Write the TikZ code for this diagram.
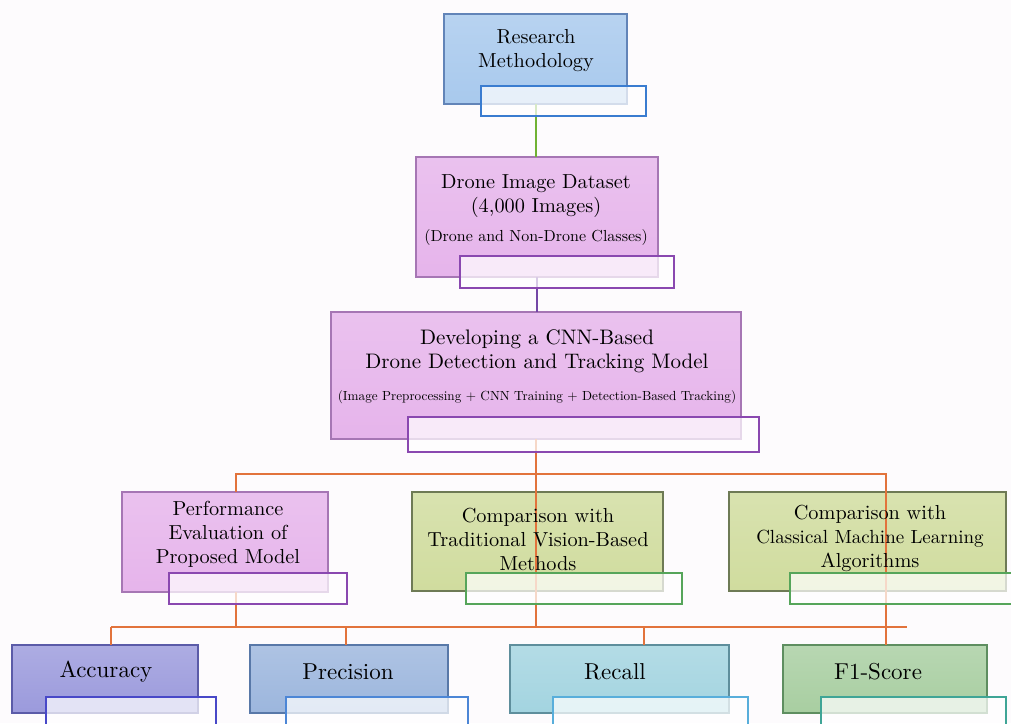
\documentclass[tikz,border=0pt]{standalone}
\usepackage{fontspec}
\setmainfont{lmroman10-regular}[Extension=.otf]
\usepackage{tikz}
\usetikzlibrary{positioning}
\definecolor{RM-BLUE}{RGB}{168,201,237}
\definecolor{RM-EDGE}{RGB}{98,132,184}
\definecolor{RM-TAB}{RGB}{58,124,208}
\definecolor{LILAC}{RGB}{230,180,235}
\definecolor{LILAC-EDGE}{RGB}{166,118,180}
\definecolor{LILAC-TAB}{RGB}{138,72,176}
\definecolor{OLIVE}{RGB}{208,220,158}
\definecolor{OLIVE-EDGE}{RGB}{110,122,85}
\definecolor{OLIVE-TAB}{RGB}{86,165,90}
\definecolor{ACC-BLUE}{RGB}{155,154,220}
\definecolor{ACC-EDGE}{RGB}{91,91,168}
\definecolor{ACC-TAB}{RGB}{72,72,200}
\definecolor{PREC-BLUE}{RGB}{156,182,221}
\definecolor{PREC-EDGE}{RGB}{88,120,168}
\definecolor{PREC-TAB}{RGB}{76,134,214}
\definecolor{REC-TEAL}{RGB}{163,212,224}
\definecolor{REC-EDGE}{RGB}{94,142,156}
\definecolor{REC-TAB}{RGB}{88,174,219}
\definecolor{F1-GREEN}{RGB}{168,206,161}
\definecolor{F1-EDGE}{RGB}{94,142,96}
\definecolor{F1-TAB}{RGB}{63,165,150}
\definecolor{LINK-GREEN}{RGB}{112,178,52}
\definecolor{LINK-PURPLE}{RGB}{116,70,166}
\definecolor{LINK-ORANGE}{RGB}{226,115,60}
\definecolor{PAPER}{RGB}{253,251,253}

\begin{document}
\begin{tikzpicture}[x=1pt,y=-1pt,
	box/.style 2 args={draw=#2,top color=#1!82,bottom color=#1,line width=1.3pt,inner sep=0pt,outer sep=0pt},
	tab/.style={draw=#1,fill=white,fill opacity=0.72,line width=1.5pt,inner sep=0pt,outer sep=0pt},
	link/.style={draw=#1,line width=2pt},
	lbl/.style={align=center,font=\fontsize{20.3}{24}\selectfont,text=black,inner sep=0pt}]
			% page
			\fill[PAPER] (0,0) rectangle (1011,723);
			\useasboundingbox (0,0) rectangle (1011,723);
		
			% draw boxes
			\node (rm) at (535.5,59) [box={RM-BLUE}{RM-EDGE},minimum width=183,minimum height=90] {};
			\node (ds) at (537,217) [box={LILAC}{LILAC-EDGE},minimum width=242,minimum height=120] {};
			\node (dev) at (536,375.5) [box={LILAC}{LILAC-EDGE},minimum width=410,minimum height=127] {};
			\node (perf) at (225,542) [box={LILAC}{LILAC-EDGE},minimum width=206,minimum height=100] {};
			\node (trad) at (537.5,541.5) [box={OLIVE}{OLIVE-EDGE},minimum width=251,minimum height=99] {};
			\node (clas) at (867.5,541.5) [box={OLIVE}{OLIVE-EDGE},minimum width=277,minimum height=99] {};
			\node (acc) at (105,679) [box={ACC-BLUE}{ACC-EDGE},minimum width=186,minimum height=68] {};
			\node (prec) at (349,679) [box={PREC-BLUE}{PREC-EDGE},minimum width=198,minimum height=68] {};
			\node (rec) at (619.5,679) [box={REC-TEAL}{REC-EDGE},minimum width=219,minimum height=68] {};
			\node (f1) at (885,679) [box={F1-GREEN}{F1-EDGE},minimum width=204,minimum height=68] {};
		
			% draw connectors
			\draw[link=LINK-GREEN] (rm.south) -- (rm.south |- ds.north);
			\draw[link=LINK-PURPLE] (ds.south) -- (ds.south |- dev.north);
			\coordinate (bus-top-l) at (236,474);
			\coordinate (bus-top-r) at (886,474);
			\coordinate (bus-bot-l) at (111,627);
			\coordinate (bus-bot-r) at (907,627);
			\draw[link=LINK-ORANGE] (dev.south) -- (dev.south |- bus-bot-l);
			\draw[link=LINK-ORANGE] (bus-top-l |- perf.north) -- (bus-top-l) -- (bus-top-r) -- (bus-top-r |- f1.north);
			\draw[link=LINK-ORANGE] (bus-top-l |- perf.south) -- (bus-top-l |- bus-bot-l);
			\draw[link=LINK-ORANGE] (bus-bot-l) -- (bus-bot-r);
			\foreach \name/\x in {acc/111,prec/346,rec/644} {
				\coordinate (drop-\name) at (\x,627);
				\draw[link=LINK-ORANGE] (drop-\name) -- (drop-\name |- \name.north);
			}
		
			% draw tabs
			\node (rm-tab) at (563.5,101) [tab=RM-TAB,minimum width=165,minimum height=30] {};
			\node (ds-tab) at (567,272) [tab=LILAC-TAB,minimum width=214,minimum height=32] {};
			\node (dev-tab) at (583.5,434.5) [tab=LILAC-TAB,minimum width=351,minimum height=35] {};
			\node (perf-tab) at (258,588.5) [tab=LILAC-TAB,minimum width=178,minimum height=31] {};
			\node (trad-tab) at (574,588.5) [tab=OLIVE-TAB,minimum width=216,minimum height=31] {};
			\node (clas-tab) at (905,588.5) [tab=OLIVE-TAB,minimum width=230,minimum height=31] {};
			\node (acc-tab) at (131,713.5) [tab=ACC-TAB,minimum width=170,minimum height=33] {};
			\node (prec-tab) at (377,713.5) [tab=PREC-TAB,minimum width=182,minimum height=33] {};
			\node (rec-tab) at (650.5,713.5) [tab=REC-TAB,minimum width=195,minimum height=33] {};
			\node (f1-tab) at (913.5,713.5) [tab=F1-TAB,minimum width=185,minimum height=33] {};
		
			% draw labels
			\node (rm-txt) at (536,51) [lbl] {Research\\Methodology};
			\node (ds-txt) at (536,210) [lbl] {Drone Image Dataset\\(4,000 Images)\\[5pt]{\fontsize{16}{19}\selectfont(Drone and Non-Drone Classes)}};
			\node (dev-txt) at (537,367) [lbl] {{\fontsize{21}{25}\selectfont Developing a CNN-Based}\\{\fontsize{21}{25}\selectfont Drone Detection and Tracking Model}\\[8pt]{\fontsize{13.2}{16}\selectfont(Image Preprocessing + CNN Training + Detection-Based Tracking)}};
			\node (perf-txt) at (228,534) [lbl] {Performance\\Evaluation of\\Proposed Model};
			\node (trad-txt) at (538,539) [lbl] {Comparison with\\Traditional Vision-Based\\Methods};
			\node (clas-txt) at (870,538) [lbl] {Comparison with\\{\fontsize{19}{23}\selectfont Classical Machine Learning}\\Algorithms};
			\node (acc-txt) at (106,672) [lbl,font=\fontsize{23}{26}\selectfont] {Accuracy};
			\node (prec-txt) at (348,672) [lbl,font=\fontsize{23}{26}\selectfont] {Precision};
			\node (rec-txt) at (615,672) [lbl,font=\fontsize{23}{26}\selectfont] {Recall};
			\node (f1-txt) at (878,672) [lbl,font=\fontsize{23}{26}\selectfont] {F1-Score};
		\end{tikzpicture}
\end{document}
